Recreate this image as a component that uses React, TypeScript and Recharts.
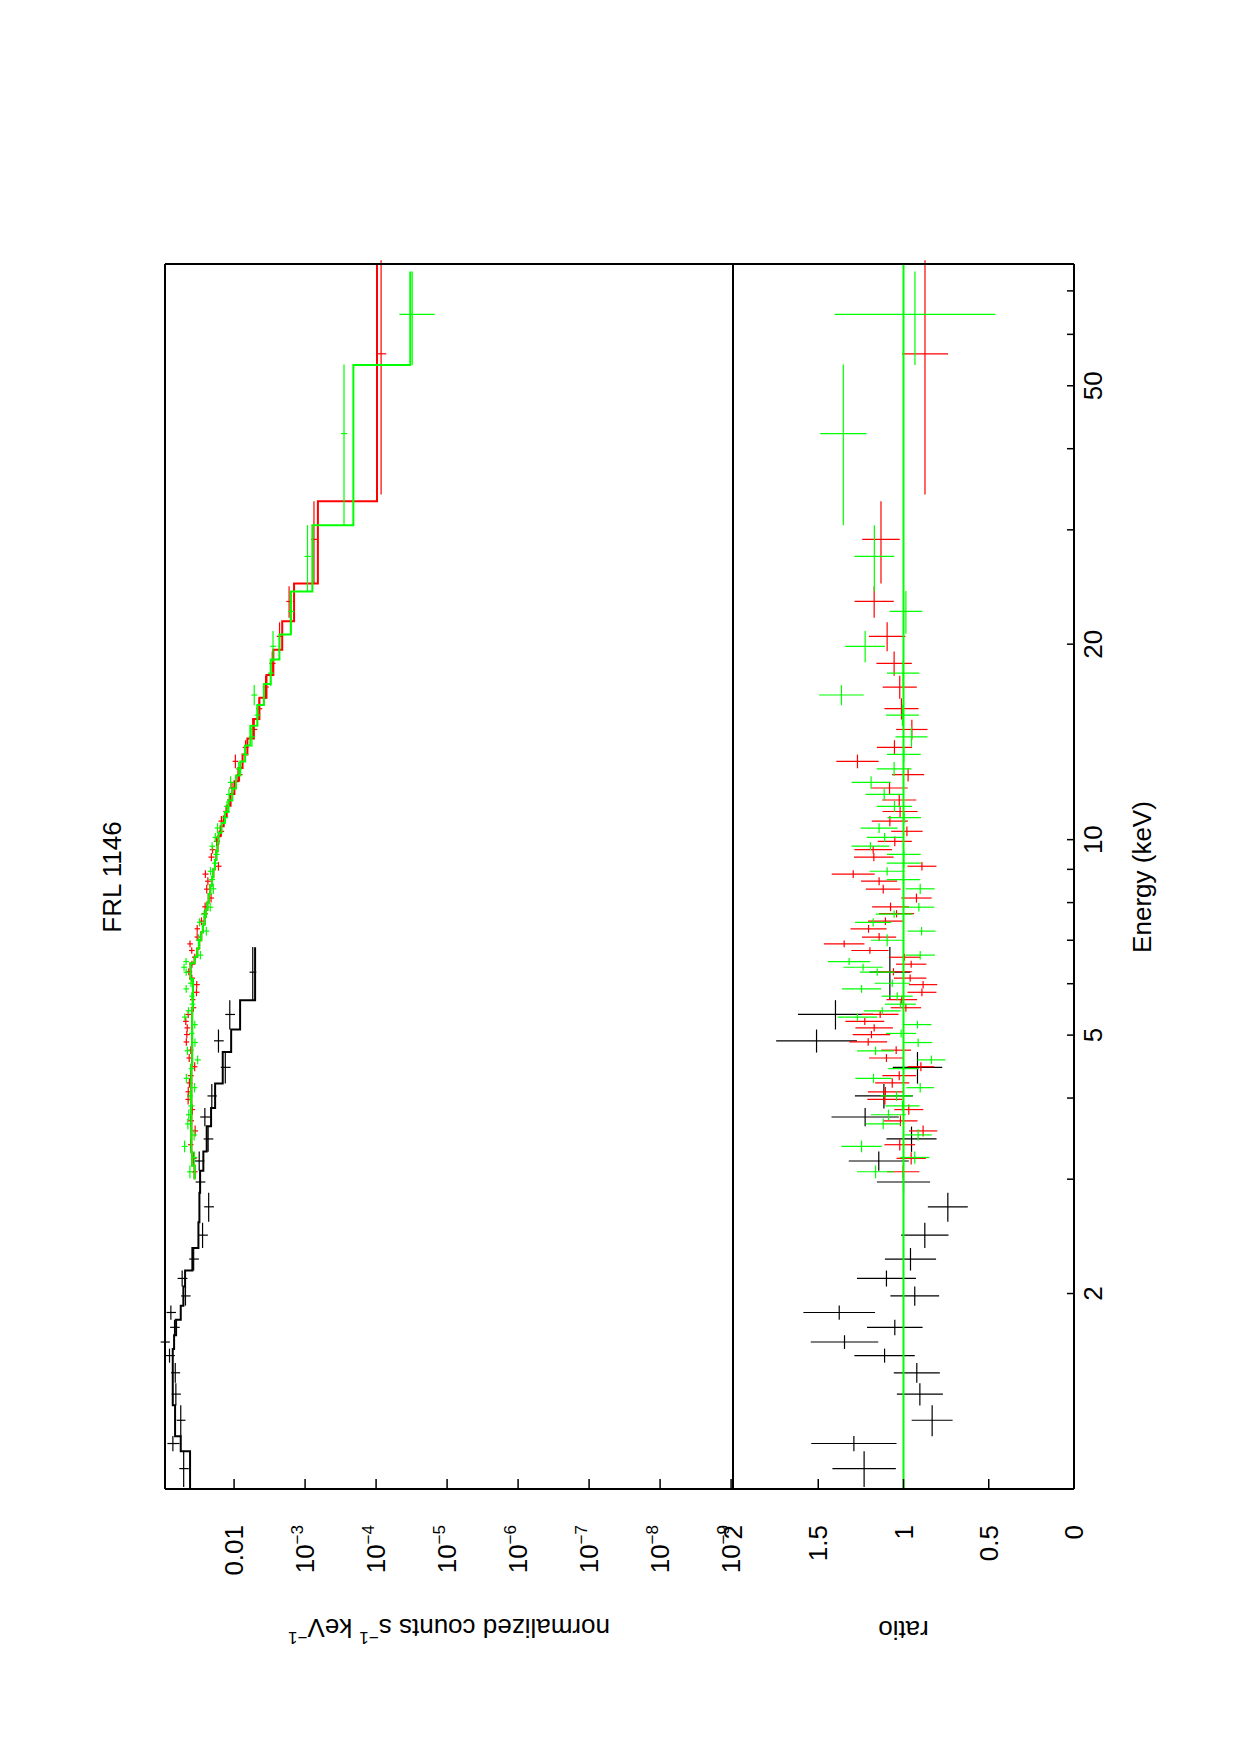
import React from 'react'
import { ComposedChart, Scatter, Line, XAxis, YAxis, ErrorBar, ReferenceLine } from 'recharts'

// ---------- data ----------

// low-energy instrument (black)
const blackEnergy = [1.075, 1.175, 1.276, 1.4, 1.51, 1.605, 1.684, 1.774, 1.87, 1.983, 2.11, 2.26, 2.46, 2.72, 2.97, 3.2, 3.46, 3.74, 4.03, 4.46, 4.9, 5.38, 6.25]
const blackHalfWidth = [0.068, 0.032, 0.07, 0.055, 0.053, 0.04, 0.041, 0.049, 0.047, 0.067, 0.06, 0.09, 0.11, 0.14, 0.115, 0.11, 0.155, 0.12, 0.175, 0.25, 0.2, 0.28, 0.585]
const blackCounts = [0.0513, 0.0728, 0.0564, 0.0661, 0.0674, 0.0812, 0.0942, 0.069, 0.0777, 0.0484, 0.0539, 0.0371, 0.0278, 0.0228, 0.0301, 0.031, 0.0232, 0.0258, 0.0206, 0.0133, 0.0166, 0.0115, 0.00546]
const blackCountsErr = [0.0078, 0.0141, 0.0081, 0.0099, 0.0099, 0.0129, 0.0139, 0.0107, 0.0118, 0.0074, 0.0085, 0.0058, 0.0044, 0.0036, 0.0047, 0.0048, 0.0036, 0.0042, 0.0031, 0.0021, 0.0026, 0.0018, 0.0006]
const blackRatio = [1.231, 1.291, 0.832, 0.904, 0.922, 1.111, 1.346, 1.051, 1.377, 0.934, 1.1, 0.959, 0.875, 0.74, 1.0, 1.145, 0.953, 1.225, 1.115, 0.918, 1.51, 1.399, 1.08]
const blackRatioErr = [0.186, 0.25, 0.12, 0.135, 0.135, 0.177, 0.198, 0.163, 0.21, 0.143, 0.173, 0.15, 0.139, 0.117, 0.156, 0.176, 0.147, 0.197, 0.17, 0.145, 0.237, 0.22, 0.12]

// FPMA (red)
const redEnergy = [3.08, 3.23, 3.39, 3.56, 3.69, 3.84, 3.98, 4.09, 4.22, 4.33, 4.47, 4.61, 4.74, 4.88, 5.01, 5.13, 5.25, 5.38, 5.51, 5.67, 5.82, 5.98, 6.12, 6.26, 6.43, 6.59, 6.75, 6.91, 7.08, 7.29, 7.49, 7.69, 7.88, 8.13, 8.39, 8.63, 8.85, 9.1, 9.4, 9.65, 9.94, 10.3, 10.68, 11.05, 11.51, 12.01, 12.59, 13.2, 13.87, 14.78, 15.91, 17.18, 18.68, 20.56, 23.27, 29.0, 56.0]
const redHalfWidth = [0.07, 0.07, 0.07, 0.07, 0.07, 0.07, 0.07, 0.07, 0.07, 0.07, 0.07, 0.065, 0.065, 0.065, 0.065, 0.065, 0.065, 0.065, 0.08, 0.08, 0.08, 0.08, 0.08, 0.08, 0.08, 0.08, 0.08, 0.085, 0.1, 0.1, 0.1, 0.1, 0.12, 0.13, 0.13, 0.12, 0.12, 0.14, 0.14, 0.13, 0.17, 0.18, 0.19, 0.21, 0.24, 0.27, 0.3, 0.32, 0.36, 0.52, 0.6, 0.7, 0.8, 1.05, 1.3, 4.2, 22]
const redCounts = [0.0361, 0.0372, 0.0409, 0.0354, 0.0407, 0.0388, 0.0444, 0.0442, 0.0426, 0.041, 0.0359, 0.0429, 0.0407, 0.0471, 0.0463, 0.0457, 0.0479, 0.0443, 0.0375, 0.0384, 0.0339, 0.0336, 0.0394, 0.0434, 0.0392, 0.0358, 0.0395, 0.0418, 0.0331, 0.0331, 0.0288, 0.026, 0.0256, 0.0211, 0.0243, 0.0234, 0.0254, 0.0166, 0.0209, 0.0201, 0.0176, 0.0152, 0.0151, 0.0129, 0.0115, 0.0107, 0.0084, 0.0096, 0.0069, 0.0052, 0.00445, 0.0036, 0.0029, 0.00229, 0.00168, 0.00075, 0.000085]
const redCountsErr = [0.0034, 0.0034, 0.0036, 0.0033, 0.004, 0.0034, 0.0041, 0.0041, 0.004, 0.004, 0.0031, 0.004, 0.0034, 0.0043, 0.0043, 0.0043, 0.0044, 0.0042, 0.0034, 0.0034, 0.0032, 0.0032, 0.0039, 0.0045, 0.0036, 0.0033, 0.0036, 0.0037, 0.0029, 0.0029, 0.0027, 0.0026, 0.0026, 0.002, 0.0022, 0.0022, 0.0025, 0.0016, 0.0021, 0.0019, 0.0017, 0.0014, 0.0015, 0.0013, 0.0011, 0.0011, 0.0008, 0.0009, 0.00067, 0.0005, 0.00044, 0.00035, 0.00029, 0.00022, 0.00016, 0.000073, 0.000013]
const redRatio = [1.002, 0.955, 1.022, 0.885, 1.018, 0.969, 1.109, 1.106, 1.066, 1.025, 0.898, 1.1, 1.043, 1.207, 1.188, 1.172, 1.227, 1.137, 0.986, 1.01, 0.892, 0.885, 0.961, 1.059, 0.955, 0.994, 1.197, 1.348, 1.143, 1.205, 1.106, 1.041, 1.076, 0.924, 1.119, 1.143, 1.295, 0.892, 1.174, 1.178, 1.051, 0.98, 1.08, 1.02, 1.025, 1.082, 0.973, 1.27, 1.053, 0.951, 1.012, 1.022, 1.055, 1.096, 1.172, 1.132, 0.874]
const redRatioErr = [0.095, 0.086, 0.09, 0.083, 0.1, 0.085, 0.103, 0.103, 0.1, 0.099, 0.078, 0.102, 0.087, 0.111, 0.11, 0.11, 0.114, 0.108, 0.089, 0.09, 0.085, 0.083, 0.095, 0.11, 0.089, 0.091, 0.109, 0.119, 0.1, 0.106, 0.102, 0.103, 0.108, 0.089, 0.102, 0.106, 0.126, 0.085, 0.116, 0.11, 0.1, 0.092, 0.106, 0.103, 0.1, 0.107, 0.094, 0.124, 0.103, 0.092, 0.1, 0.1, 0.104, 0.107, 0.115, 0.11, 0.135]

// FPMB (green)
const greenEnergy = [3.08, 3.24, 3.37, 3.51, 3.65, 3.77, 3.89, 4.03, 4.15, 4.29, 4.44, 4.58, 4.73, 4.87, 5.03, 5.19, 5.33, 5.45, 5.58, 5.74, 5.89, 6.01, 6.25, 6.36, 6.49, 6.64, 7.0, 7.23, 7.46, 7.68, 7.87, 8.4, 8.68, 8.94, 9.2, 9.49, 9.77, 10.08, 10.42, 10.81, 11.25, 11.74, 12.25, 12.85, 13.53, 14.4, 15.55, 16.7, 18.05, 19.85, 22.46, 27.3, 42.2, 64.4]
const greenHalfWidth = [0.07, 0.07, 0.07, 0.07, 0.07, 0.07, 0.07, 0.07, 0.07, 0.07, 0.07, 0.07, 0.07, 0.07, 0.07, 0.07, 0.07, 0.07, 0.08, 0.08, 0.08, 0.08, 0.08, 0.08, 0.08, 0.1, 0.15, 0.11, 0.11, 0.1, 0.12, 0.15, 0.13, 0.13, 0.13, 0.14, 0.14, 0.16, 0.18, 0.2, 0.22, 0.25, 0.27, 0.32, 0.36, 0.5, 0.58, 0.6, 0.8, 1.1, 1.7, 3.2, 11.7, 10.6]
const greenCounts = [0.0419, 0.0364, 0.0498, 0.0366, 0.0448, 0.0435, 0.0402, 0.0416, 0.0361, 0.047, 0.04, 0.0326, 0.0454, 0.0356, 0.0395, 0.0358, 0.0495, 0.0439, 0.0387, 0.0394, 0.0473, 0.0405, 0.0473, 0.0507, 0.0475, 0.0298, 0.0318, 0.0246, 0.0306, 0.0264, 0.0217, 0.0196, 0.0205, 0.0215, 0.0186, 0.0178, 0.0204, 0.0184, 0.0171, 0.0134, 0.0126, 0.0118, 0.0112, 0.0086, 0.007, 0.0056, 0.0047, 0.0052, 0.00305, 0.00283, 0.00157, 0.000925, 0.000283, 0.000031]
const greenCountsErr = [0.0039, 0.0034, 0.0047, 0.0032, 0.0041, 0.0041, 0.004, 0.0038, 0.0032, 0.0042, 0.0036, 0.0032, 0.0042, 0.0032, 0.0034, 0.0032, 0.0045, 0.0042, 0.0035, 0.0035, 0.0044, 0.004, 0.0042, 0.0047, 0.0045, 0.0028, 0.0028, 0.0023, 0.0028, 0.0027, 0.0021, 0.0018, 0.002, 0.002, 0.0019, 0.0018, 0.0019, 0.0017, 0.0016, 0.0013, 0.0012, 0.0012, 0.0011, 0.00083, 0.0007, 0.00055, 0.00045, 0.0005, 0.00029, 0.00027, 0.00015, 0.000092, 0.000028, 0.000016]
const greenRatio = [1.164, 0.934, 1.246, 0.914, 1.119, 1.088, 1.006, 1.041, 0.902, 1.176, 1.0, 0.836, 1.164, 0.914, 1.014, 0.918, 1.27, 1.125, 1.018, 1.037, 1.246, 1.066, 1.154, 1.237, 1.319, 0.902, 1.096, 0.894, 1.178, 1.055, 0.91, 0.902, 1.0, 1.096, 0.998, 0.998, 1.194, 1.111, 1.143, 0.996, 1.053, 1.113, 1.19, 1.055, 0.998, 0.953, 1.006, 1.364, 1.002, 1.225, 0.986, 1.171, 1.353, 0.933]
const greenRatioErr = [0.109, 0.086, 0.118, 0.08, 0.103, 0.103, 0.1, 0.094, 0.081, 0.106, 0.09, 0.082, 0.108, 0.082, 0.088, 0.082, 0.116, 0.108, 0.091, 0.091, 0.115, 0.104, 0.102, 0.115, 0.124, 0.086, 0.096, 0.082, 0.106, 0.108, 0.09, 0.085, 0.098, 0.103, 0.1, 0.099, 0.111, 0.105, 0.108, 0.098, 0.103, 0.109, 0.114, 0.102, 0.099, 0.094, 0.096, 0.131, 0.095, 0.117, 0.096, 0.117, 0.135, 0.471]

// folded models: lower bin edge + value (histogram steps)
const blackModelEdges = [1.0, 1.143, 1.206, 1.346, 1.643, 1.725, 1.823, 1.916, 2.05, 2.17, 2.35, 2.575, 2.86, 3.09, 3.31, 3.62, 3.86, 4.21, 4.71, 5.1, 5.66, 6.83]
const blackModelValues = [0.0417, 0.0564, 0.0678, 0.0731, 0.07, 0.0656, 0.0564, 0.0518, 0.049, 0.0387, 0.0318, 0.0308, 0.0301, 0.0271, 0.0243, 0.0211, 0.0185, 0.01445, 0.011, 0.00823, 0.00506, 0.00506]
const redModelEdges = [3.0, 3.15, 3.3, 4.5, 5.5, 6.1, 6.45, 6.6, 6.8, 7.0, 7.2, 7.4, 7.6, 7.8, 8.0, 8.25, 8.5, 8.75, 9.0, 9.3, 9.6, 9.85, 10.12, 10.49, 10.86, 11.28, 11.76, 12.3, 12.89, 13.53, 14.32, 15.34, 16.54, 17.93, 19.6, 21.7, 24.8, 33.2, 77]
const redModelValues = [0.036, 0.039, 0.04, 0.039, 0.038, 0.041, 0.036, 0.033, 0.031, 0.029, 0.0275, 0.026, 0.025, 0.0238, 0.0228, 0.0217, 0.0205, 0.0196, 0.0186, 0.0178, 0.0171, 0.0167, 0.0155, 0.014, 0.0127, 0.0112, 0.0099, 0.0087, 0.0076, 0.0065, 0.0054, 0.0044, 0.0035, 0.0028, 0.0021, 0.00143, 0.00066, 0.000097, 0.000097]
const greenModelEdges = [3.0, 3.15, 3.3, 4.5, 5.5, 6.1, 6.45, 6.6, 6.8, 7.0, 7.2, 7.4, 7.6, 7.8, 8.0, 8.25, 8.5, 8.75, 9.0, 9.3, 9.6, 9.9, 10.25, 10.61, 11.03, 11.49, 11.99, 12.55, 13.19, 13.96, 14.97, 16.12, 17.37, 18.95, 20.7, 24.1, 30.5, 53.8, 75]
const greenModelValues = [0.036, 0.039, 0.04, 0.039, 0.038, 0.041, 0.036, 0.033, 0.031, 0.029, 0.0275, 0.026, 0.025, 0.0238, 0.0228, 0.0217, 0.0205, 0.0196, 0.0186, 0.0178, 0.0171, 0.0166, 0.015, 0.0135, 0.012, 0.0106, 0.0094, 0.0082, 0.007, 0.0059, 0.0047, 0.0038, 0.00305, 0.0023, 0.00159, 0.00079, 0.000209, 0.000033, 0.000033]

// axes
const energyTicks = [1, 2, 3, 4, 5, 6, 7, 8, 9, 10, 20, 30, 40, 50, 60, 70]
const energyDecadeTicks = [10]
const energyLabels = [2, 5, 10, 20, 50]
const countTicks = [1e-9, 1e-8, 1e-7, 1e-6, 1e-5, 1e-4, 1e-3, 1e-2]
const countTickBase = ['10', '10', '10', '10', '10', '10', '10', '0.01']
const countTickSup = ['−9', '−8', '−7', '−6', '−5', '−4', '−3', '']
const countMinorTicks = countTicks.flatMap((d) => [2, 3, 4, 5, 6, 7, 8, 9].map((k) => k * d)).filter((v) => v < 0.094)
const ratioTicks = [0, 0.5, 1, 1.5, 2]
const ratioTickLabels = ['0', '0.5', '1', '1.5', '2']
const ratioMinorTicks = [0.1, 0.2, 0.3, 0.4, 0.6, 0.7, 0.8, 0.9, 1.1, 1.2, 1.3, 1.4, 1.6, 1.7, 1.8, 1.9]

// ---------- layout (unrotated landscape canvas) ----------
const W = 1755
const H = 1240
const PLOT_L = 266
const PLOT_R = 1491
const TOP = 165
const MID = 733
const BOT = 1074
const FS = 26
const E_DOMAIN: [number, number] = [1, 77]
const C_DOMAIN: [number, number] = [9.4e-10, 0.094]
// every side carries two 1px-thick axes (frame + extra ticks)
const AX = 2

const RED = '#ff0000'
const GREEN = '#00ff00'
const BLACK = '#000000'

const frame = { stroke: BLACK, strokeWidth: 2 }
const tickLine = { stroke: BLACK, strokeWidth: 1.5 }

const points = (e: number[], de: number[], y: number[], dy: number[]) =>
  e.map((v, i) => ({ e: v, de: de[i], y: y[i], dy: dy[i] }))
const steps = (edges: number[], vals: number[]) => edges.map((e, i) => ({ e, v: vals[i] }))

const blackSpec = points(blackEnergy, blackHalfWidth, blackCounts, blackCountsErr)
const redSpec = points(redEnergy, redHalfWidth, redCounts, redCountsErr)
const greenSpec = points(greenEnergy, greenHalfWidth, greenCounts, greenCountsErr)
const blackRat = points(blackEnergy, blackHalfWidth, blackRatio, blackRatioErr)
const redRat = points(redEnergy, redHalfWidth, redRatio, redRatioErr)
const greenRat = points(greenEnergy, greenHalfWidth, greenRatio, greenRatioErr)
const blackModel = steps(blackModelEdges, blackModelValues)
const redModel = steps(redModelEdges, redModelValues)
const greenModel = steps(greenModelEdges, greenModelValues)

const noMarker = () => <g />

function CountTick(props: any) {
  const { x, y, payload } = props
  const i = countTicks.indexOf(payload.value)
  if (i < 0) return <g />
  return (
    <text x={x} y={y} dy="0.35em" textAnchor="end" fontSize={FS} fill={BLACK}>
      <tspan>{countTickBase[i]}</tspan>
      {countTickSup[i] && (
        <tspan dy={-11} fontSize={17}>
          {countTickSup[i]}
        </tspan>
      )}
    </text>
  )
}

function RatioTick(props: any) {
  const { x, y, payload } = props
  const i = ratioTicks.indexOf(payload.value)
  if (i < 0) return <g />
  return (
    <text x={x} y={y} dy="0.35em" textAnchor="end" fontSize={FS} fill={BLACK}>
      {ratioTickLabels[i]}
    </text>
  )
}

function EnergyTick(props: any) {
  const { x, y, payload } = props
  if (!energyLabels.includes(payload.value)) return <g />
  return (
    <text x={x} y={y} dy="0.71em" textAnchor="middle" fontSize={FS} fill={BLACK}>
      {payload.value}
    </text>
  )
}

// energy axes along both long edges of a panel
function energyAxes(labelled: boolean) {
  return [
    <XAxis key="eb" xAxisId="e" dataKey="e" type="number" scale="log" domain={E_DOMAIN} allowDataOverflow
      orientation="bottom" height={1} ticks={energyTicks} interval={0} tickSize={-7} tickMargin={17}
      tick={labelled ? <EnergyTick /> : false} axisLine={frame} tickLine={tickLine} />,
    <XAxis key="ebm" xAxisId="ebm" type="number" scale="log" domain={E_DOMAIN} allowDataOverflow
      orientation="bottom" height={1} ticks={energyDecadeTicks} interval={0} tickSize={-15}
      tick={false} axisLine={false} tickLine={tickLine} />,
    <XAxis key="et" xAxisId="et" type="number" scale="log" domain={E_DOMAIN} allowDataOverflow
      orientation="top" height={1} ticks={energyTicks} interval={0} tickSize={-7}
      tick={false} axisLine={frame} tickLine={tickLine} />,
    <XAxis key="etm" xAxisId="etm" type="number" scale="log" domain={E_DOMAIN} allowDataOverflow
      orientation="top" height={1} ticks={energyDecadeTicks} interval={0} tickSize={-15}
      tick={false} axisLine={false} tickLine={tickLine} />,
  ]
}

function SpectrumPanel() {
  return (
    <ComposedChart width={W} height={H}
      margin={{ top: TOP - AX, right: W - PLOT_R - AX, bottom: H - MID - AX, left: PLOT_L - AX }}>
      {energyAxes(false)}
      <YAxis yAxisId="c" dataKey="y" type="number" scale="log" domain={C_DOMAIN} allowDataOverflow
        orientation="left" width={1} ticks={countTicks} interval={0} tickSize={-10} tickMargin={46}
        tick={<CountTick />} axisLine={frame} tickLine={tickLine} />
      <YAxis yAxisId="cm" type="number" scale="log" domain={C_DOMAIN} allowDataOverflow
        orientation="left" width={1} ticks={countMinorTicks} interval={0} tickSize={-6}
        tick={false} axisLine={false} tickLine={tickLine} />
      <YAxis yAxisId="cr" type="number" scale="log" domain={C_DOMAIN} allowDataOverflow
        orientation="right" width={1} ticks={countTicks} interval={0} tickSize={-10}
        tick={false} axisLine={frame} tickLine={tickLine} />
      <YAxis yAxisId="crm" type="number" scale="log" domain={C_DOMAIN} allowDataOverflow
        orientation="right" width={1} ticks={countMinorTicks} interval={0} tickSize={-6}
        tick={false} axisLine={false} tickLine={tickLine} />

      <Scatter xAxisId="e" yAxisId="c" data={blackSpec} shape={noMarker} isAnimationActive={false}>
        <ErrorBar dataKey="de" direction="x" width={0} stroke={BLACK} strokeWidth={1.2} />
        <ErrorBar dataKey="dy" direction="y" width={0} stroke={BLACK} strokeWidth={1.2} />
      </Scatter>
      <Line xAxisId="e" yAxisId="c" data={blackModel} dataKey="v" type="stepAfter" stroke={BLACK}
        strokeWidth={2} dot={false} isAnimationActive={false} />
      <Scatter xAxisId="e" yAxisId="c" data={redSpec} shape={noMarker} isAnimationActive={false}>
        <ErrorBar dataKey="de" direction="x" width={0} stroke={RED} strokeWidth={1.2} />
        <ErrorBar dataKey="dy" direction="y" width={0} stroke={RED} strokeWidth={1.2} />
      </Scatter>
      <Line xAxisId="e" yAxisId="c" data={redModel} dataKey="v" type="stepAfter" stroke={RED}
        strokeWidth={2} dot={false} isAnimationActive={false} />
      <Scatter xAxisId="e" yAxisId="c" data={greenSpec} shape={noMarker} isAnimationActive={false}>
        <ErrorBar dataKey="de" direction="x" width={0} stroke={GREEN} strokeWidth={1.2} />
        <ErrorBar dataKey="dy" direction="y" width={0} stroke={GREEN} strokeWidth={1.2} />
      </Scatter>
      <Line xAxisId="e" yAxisId="c" data={greenModel} dataKey="v" type="stepAfter" stroke={GREEN}
        strokeWidth={2} dot={false} isAnimationActive={false} />
    </ComposedChart>
  )
}

function RatioPanel() {
  return (
    <ComposedChart width={W} height={H}
      margin={{ top: MID - AX, right: W - PLOT_R - AX, bottom: H - BOT - AX, left: PLOT_L - AX }}>
      {energyAxes(true)}
      <YAxis yAxisId="r" dataKey="y" type="number" domain={[0, 2]} allowDataOverflow
        orientation="left" width={1} ticks={ratioTicks} interval={0} tickSize={-10} tickMargin={46}
        tick={<RatioTick />} axisLine={frame} tickLine={tickLine} />
      <YAxis yAxisId="rm" type="number" domain={[0, 2]} allowDataOverflow
        orientation="left" width={1} ticks={ratioMinorTicks} interval={0} tickSize={-6}
        tick={false} axisLine={false} tickLine={tickLine} />
      <YAxis yAxisId="rr" type="number" domain={[0, 2]} allowDataOverflow
        orientation="right" width={1} ticks={ratioTicks} interval={0} tickSize={-10}
        tick={false} axisLine={frame} tickLine={tickLine} />
      <YAxis yAxisId="rrm" type="number" domain={[0, 2]} allowDataOverflow
        orientation="right" width={1} ticks={ratioMinorTicks} interval={0} tickSize={-6}
        tick={false} axisLine={false} tickLine={tickLine} />

      <Scatter xAxisId="e" yAxisId="r" data={blackRat} shape={noMarker} isAnimationActive={false}>
        <ErrorBar dataKey="de" direction="x" width={0} stroke={BLACK} strokeWidth={1.2} />
        <ErrorBar dataKey="dy" direction="y" width={0} stroke={BLACK} strokeWidth={1.2} />
      </Scatter>
      <Scatter xAxisId="e" yAxisId="r" data={redRat} shape={noMarker} isAnimationActive={false}>
        <ErrorBar dataKey="de" direction="x" width={0} stroke={RED} strokeWidth={1.2} />
        <ErrorBar dataKey="dy" direction="y" width={0} stroke={RED} strokeWidth={1.2} />
      </Scatter>
      <Scatter xAxisId="e" yAxisId="r" data={greenRat} shape={noMarker} isAnimationActive={false}>
        <ErrorBar dataKey="de" direction="x" width={0} stroke={GREEN} strokeWidth={1.2} />
        <ErrorBar dataKey="dy" direction="y" width={0} stroke={GREEN} strokeWidth={1.2} />
      </Scatter>
      <ReferenceLine xAxisId="e" yAxisId="r" y={1} stroke={GREEN} strokeWidth={2} />
    </ComposedChart>
  )
}

function Labels() {
  return (
    <svg width={W} height={H} style={{ position: 'absolute', left: 0, top: 0 }}>
      <text x={878} y={112} textAnchor="middle" dominantBaseline="central" fontSize={FS}>FRL 1146</text>
      <text x={878} y={1142} textAnchor="middle" dominantBaseline="central" fontSize={FS}>Energy (keV)</text>
      <text transform={`translate(127, ${(TOP + MID) / 2}) rotate(-90)`} textAnchor="middle"
        dominantBaseline="central" fontSize={FS}>
        normalized counts s<tspan dy={-10} fontSize={17}>−1</tspan>
        <tspan dy={10}> keV</tspan>
        <tspan dy={-10} fontSize={17}>−1</tspan>
      </text>
      <text transform={`translate(125, ${(MID + BOT) / 2}) rotate(-90)`} textAnchor="middle"
        dominantBaseline="central" fontSize={FS}>ratio</text>
    </svg>
  )
}

export default function App() {
  // the whole landscape plot is turned 90° counter-clockwise, like the reference page
  return (
    <div style={{ position: 'fixed', left: 0, top: 0, width: 1240, height: 1755, overflow: 'hidden', background: '#fff' }}>
      <div
        style={{
          position: 'absolute', left: 0, top: 0, width: W, height: H,
          transformOrigin: '0 0', transform: `translate(0px, ${W}px) rotate(-90deg)`,
          fontFamily: '"Liberation Sans", Arial, Helvetica, sans-serif',
        }}
      >
        <div style={{ position: 'absolute', left: 0, top: 0 }}>
          <SpectrumPanel />
        </div>
        <div style={{ position: 'absolute', left: 0, top: 0 }}>
          <RatioPanel />
        </div>
        <Labels />
      </div>
    </div>
  )
}
